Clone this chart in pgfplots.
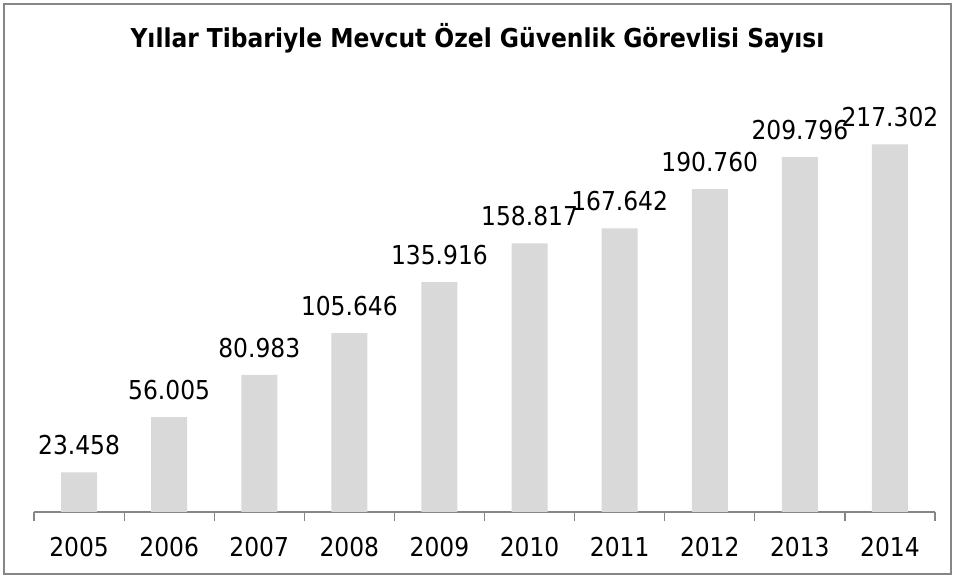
\documentclass[border=0pt]{standalone}
\usepackage{pgfplots}
\pgfplotsset{compat=1.18}
\usepackage{pgfplotstable}
\usepackage{fontspec}
\setmainfont{DejaVu Sans Condensed}
\definecolor{barfill}{HTML}{D9D9D9}
\definecolor{axisgray}{HTML}{868686}
\pgfplotstableread{
x y label
0 23458 23.458
1 56005 56.005
2 80983 80.983
3 105646 105.646
4 135916 135.916
5 158817 158.817
6 167642 167.642
7 190760 190.760
8 209796 209.796
9 217302 217.302
}\datatable
\begin{document}
\begin{tikzpicture}[x=1pt,y=1pt]
\useasboundingbox (0,0) rectangle (955,578);
\draw[axisgray, line width=1.3pt] (4,4) rectangle (951,574);
\node[anchor=base, font=\fontsize{26}{30}\selectfont\bfseries] at (477.5,530) {Yıllar Tibariyle Mevcut Özel Güvenlik Görevlisi Sayısı};
\begin{axis}[
  at={(34pt,66pt)}, anchor=south west,
  scale only axis, width=901pt, height=423pt,
  xmin=-0.5, xmax=9.5, ymin=0, ymax=250000,
  axis x line*=bottom, axis y line=none,
  axis line style={axisgray, line width=1.2pt, -},
  xtick={0,...,9},
  xticklabels={2005,2006,2007,2008,2009,2010,2011,2012,2013,2014},
  major tick length=0pt,
  xticklabel style={font=\fontsize{26}{30}\selectfont, inner sep=0pt, anchor=north, yshift=-25pt},
  extra x ticks={-0.5,0.5,1.5,2.5,3.5,4.5,5.5,6.5,7.5,8.5,9.5},
  extra x tick labels={},
  extra x tick style={tick align=outside, major tick length=9pt, tick style={axisgray, line width=1.2pt}},
  ytick=\empty,
  clip=false,
]
\addplot[ybar, bar width=36pt, fill=barfill, draw=none,
  point meta=explicit symbolic,
  nodes near coords,
  every node near coord/.append style={font=\fontsize{26}{30}\selectfont, inner sep=0pt, anchor=south, yshift=17pt, text=black}]
  table[x=x, y=y, meta=label] {\datatable};
\end{axis}
\end{tikzpicture}
\end{document}
